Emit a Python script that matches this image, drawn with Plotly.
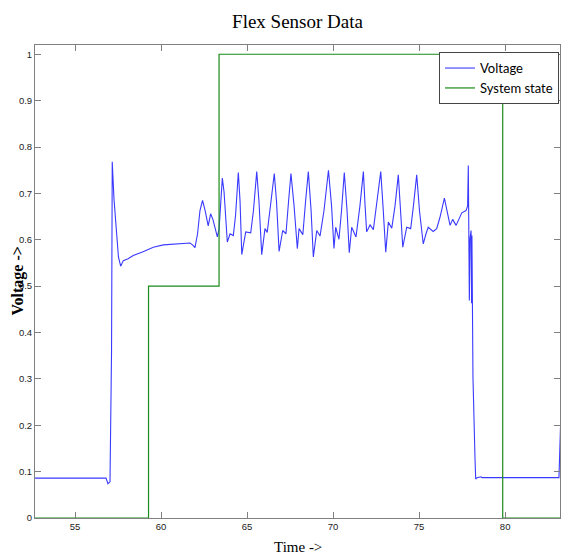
import plotly.graph_objects as go

# Voltage trace
time = [52.67, 56.80, 56.91, 57.03, 57.12, 57.16, 57.26, 57.42, 57.52, 57.65,
        57.80, 58.08, 58.38, 58.95, 59.55, 60.13, 60.81, 61.39, 61.68, 61.83,
        61.97, 62.12, 62.26, 62.41, 62.56, 62.74, 62.88, 63.02, 63.27, 63.37,
        63.56, 63.66, 63.85, 64.01, 64.20, 64.33, 64.49, 64.59, 64.69, 64.92,
        65.21, 65.37, 65.56, 65.69, 65.85, 66.04, 66.17, 66.39, 66.58, 66.71,
        66.86, 67.07, 67.26, 67.41, 67.55, 67.73, 67.92, 68.02, 68.24, 68.40,
        68.56, 68.72, 68.85, 69.05, 69.24, 69.47, 69.73, 69.91, 70.05, 70.15,
        70.34, 70.49, 70.65, 70.81, 70.94, 71.08, 71.33, 71.56, 71.76, 71.86,
        71.95, 72.15, 72.34, 72.55, 72.77, 72.90, 73.06, 73.21, 73.41, 73.60,
        73.79, 73.92, 74.05, 74.28, 74.51, 74.67, 74.86, 75.02, 75.24, 75.40,
        75.53, 75.82, 76.02, 76.21, 76.47, 76.62, 76.80, 76.95, 77.15, 77.48,
        77.73, 77.82, 77.86, 77.92, 77.96, 78.02, 78.05, 78.07, 78.13, 78.25,
        78.29, 78.37, 78.60, 78.66, 83.13, 83.22]
voltage = [0.086, 0.086, 0.074, 0.078, 0.36, 0.768, 0.689, 0.602, 0.563, 0.543,
           0.555, 0.559, 0.566, 0.574, 0.584, 0.589, 0.591, 0.592, 0.593, 0.589,
           0.583, 0.613, 0.663, 0.685, 0.663, 0.630, 0.656, 0.643, 0.606, 0.623,
           0.733, 0.703, 0.595, 0.613, 0.609, 0.653, 0.745, 0.683, 0.568, 0.617,
           0.615, 0.663, 0.747, 0.683, 0.568, 0.624, 0.616, 0.683, 0.743, 0.683,
           0.575, 0.620, 0.613, 0.683, 0.743, 0.673, 0.581, 0.624, 0.611, 0.683,
           0.747, 0.663, 0.563, 0.620, 0.608, 0.663, 0.750, 0.673, 0.581, 0.627,
           0.601, 0.663, 0.745, 0.663, 0.572, 0.627, 0.606, 0.673, 0.747, 0.673,
           0.617, 0.632, 0.622, 0.683, 0.747, 0.673, 0.573, 0.638, 0.625, 0.673,
           0.740, 0.663, 0.584, 0.627, 0.624, 0.673, 0.740, 0.663, 0.591, 0.613,
           0.627, 0.618, 0.624, 0.648, 0.690, 0.663, 0.631, 0.644, 0.631, 0.658,
           0.663, 0.673, 0.760, 0.469, 0.603, 0.620, 0.463, 0.609, 0.304, 0.127,
           0.084, 0.087, 0.089, 0.087, 0.087, 0.198]

# System state (step function)
state_time = [52.67, 59.27, 63.37, 79.86, 83.25]
state = [0, 0.5, 1, 0, 0]

x_ticks = [55, 60, 65, 70, 75, 80]
y_ticks = [0, 0.1, 0.2, 0.3, 0.4, 0.5, 0.6, 0.7, 0.8, 0.9, 1]
y_labels = ["0", "0.1", "0.2", "0.3", "0.4", "0.5", "0.6", "0.7", "0.8", "0.9", "1"]

fig = go.Figure()
fig.add_trace(go.Scatter(x=time, y=voltage, mode="lines", name="Voltage",
                         line=dict(color="#3a3aff", width=1.1)))
fig.add_trace(go.Scatter(x=state_time, y=state, mode="lines", name="System state",
                         line=dict(color="#1a8c1a", width=1.2, shape="hv")))

tickfont = dict(family="Liberation Sans", size=9.5, color="#222")
axis_common = dict(showline=True, linecolor="#808080", linewidth=1, mirror="ticks",
                   ticks="inside", ticklen=6, tickcolor="#808080", showgrid=False,
                   zeroline=False, tickfont=tickfont)

W, H = 561, 557
fig.update_layout(
    width=W, height=H,
    margin=dict(l=35, r=1, t=45, b=39),
    paper_bgcolor="white", plot_bgcolor="white",
    title=dict(text="Flex Sensor Data", x=0.5, xref="paper", xanchor="center",
               y=1 - 21 / H, yanchor="middle",
               font=dict(family="Liberation Serif", size=19, color="black")),
    legend=dict(x=1 - 1 / 525, y=0.985, xanchor="right", yanchor="top", bgcolor="white",
                bordercolor="#444", borderwidth=1, itemwidth=30,
                font=dict(family="Lato", size=13, color="black")),
    xaxis=dict(range=[52.67, 83.19], tickvals=x_ticks, **axis_common),
    yaxis=dict(range=[0, 1.02], tickvals=y_ticks, ticktext=y_labels, **axis_common),
    annotations=[
        dict(text="Time ->", xref="paper", yref="paper", x=0.5, y=-29 / 473,
             xanchor="center", yanchor="middle", showarrow=False,
             font=dict(family="Liberation Serif", size=15, color="black")),
        dict(text="<b>Voltage -></b>", xref="paper", yref="paper", x=-18 / 525, y=0.5,
             xanchor="center", yanchor="middle", showarrow=False, textangle=-90,
             font=dict(family="Liberation Serif", size=16, color="black")),
    ],
)

fig.write_html(
    "out.html",
    config={"displayModeBar": False},
    post_script="document.body.style.margin='0';document.body.style.overflow='hidden';",
)
